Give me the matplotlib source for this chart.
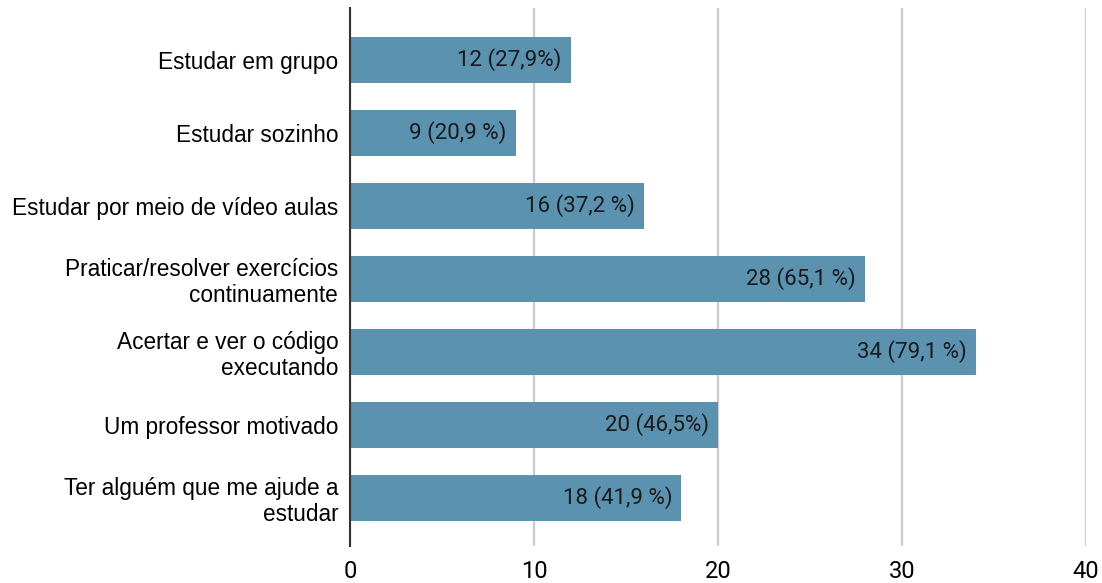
import numpy as np
import matplotlib.pyplot as plt

categories = ["Estudar em grupo", "Estudar sozinho", "Estudar por meio de vídeo aulas",
              "Praticar/resolver exercícios\ncontinuamente", "Acertar e ver o código\nexecutando",
              "Um professor motivado", "Ter alguém que me ajude a\nestudar"]
values = [12, 9, 16, 28, 34, 20, 18]
bar_labels = ["12 (27,9%)", "9 (20,9 %)", "16 (37,2 %)", "28 (65,1 %)",
              "34 (79,1 %)", "20 (46,5%)", "18 (41,9 %)"]
xticks = [0, 10, 20, 30, 40]

fig = plt.figure(figsize=(11.02, 5.83), dpi=100)
ax = fig.add_axes([350/1102, 1 - 546/583, 736/1102, 538/583])

y = np.arange(len(values))
ax.barh(y, values, height=0.63, color="#5A92AF", zorder=3)

for yi, v, lab in zip(y, values, bar_labels):
    ax.annotate(lab, (v, yi), xytext=(-6.5, 0), textcoords="offset points",
                ha="right", va="center", fontsize=16, family="Roboto",
                color="#1a1a1a", zorder=4)

ax.set_xlim(0, 40)
ax.set_ylim(6.658, -0.712)
ax.set_xticks(xticks)
ax.set_xticklabels([str(t) for t in xticks], family="Roboto", fontsize=17)
ax.set_yticks(y)
ax.set_yticklabels(categories, family="Liberation Sans", fontsize=16.3, ha="right",
                   linespacing=1.15)
ax.tick_params(axis="both", length=0)
ax.tick_params(axis="x", pad=10)
ax.tick_params(axis="y", pad=8.5)

ax.grid(axis="x", color="#cccccc", linewidth=1.6, zorder=0)
for s in ["top", "right", "bottom"]:
    ax.spines[s].set_visible(False)
ax.spines["left"].set_color("#333333")
ax.spines["left"].set_linewidth(1.5)
ax.spines["left"].set_zorder(5)

fig.savefig("out.png", dpi=100)
